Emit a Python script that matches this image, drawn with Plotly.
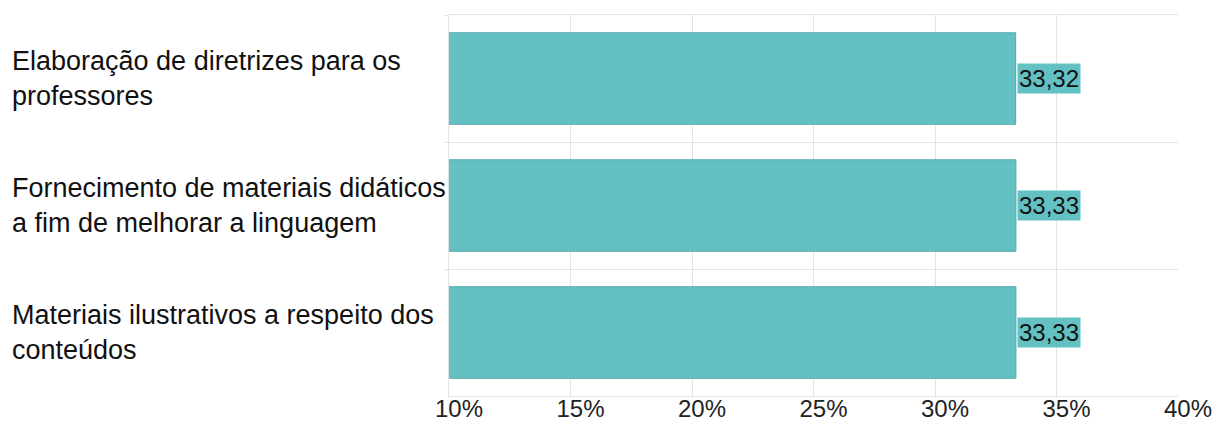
import plotly.graph_objects as go

categories = [
    "Elaboração de diretrizes para os<br>professores",
    "Fornecimento de materiais didáticos<br>a fim de melhorar a linguagem",
    "Materiais ilustrativos a respeito dos<br>conteúdos",
]
values = [33.32, 33.33, 33.33]
value_labels = ["33,32", "33,33", "33,33"]
tick_vals = [10, 15, 20, 25, 30, 35, 40]
tick_text = ["10%", "15%", "20%", "25%", "30%", "35%", "40%"]

W, H = 1214, 424
ml, mr, mt, mb = 449, 36, 15, 28
pw = W - ml - mr

bar_color = "#64c1c3"
grid = "#e3e3e3"
font = "Liberation Sans, Arial, sans-serif"

fig = go.Figure()
fig.add_trace(go.Bar(
    y=categories, x=values, orientation="h",
    marker=dict(color=bar_color, line=dict(color="#4fa9ab", width=1)),
    width=0.72, hoverinfo="skip",
))

for c, v, t in zip(categories, values, value_labels):
    fig.add_annotation(x=v, y=c, xref="x", yref="y", text=t, showarrow=False,
                       xanchor="left", yanchor="middle", bgcolor=bar_color,
                       borderpad=1, xshift=1,
                       font=dict(family=font, size=24, color="#111111"))
    fig.add_annotation(x=(10 - ml) / pw, y=c, xref="paper", yref="y", text=c,
                       showarrow=False, xanchor="left", yanchor="middle", align="left",
                       font=dict(family=font, size=27, color="#111111"))

fig.update_layout(
    width=W, height=H, margin=dict(l=ml, r=mr, t=mt, b=mb, autoexpand=False),
    paper_bgcolor="white", plot_bgcolor="white", showlegend=False,
    xaxis=dict(range=[10, 40], tickvals=tick_vals, ticktext=tick_text, automargin=False,
               showgrid=True, gridcolor=grid, gridwidth=1, zeroline=False,
               showline=True, mirror=True, linecolor=grid, ticks="",
               ticklabelshift=10, ticklabelstandoff=-9,
               tickfont=dict(family=font, size=24, color="#222222")),
    yaxis=dict(autorange="reversed", tickson="boundaries", showgrid=True, automargin=False,
               gridcolor=grid, gridwidth=1, showticklabels=False,
               ticks="outside", ticklen=4, tickcolor=grid, showline=True,
               linecolor=grid, mirror=False),
)
fig.write_html("out.html")
